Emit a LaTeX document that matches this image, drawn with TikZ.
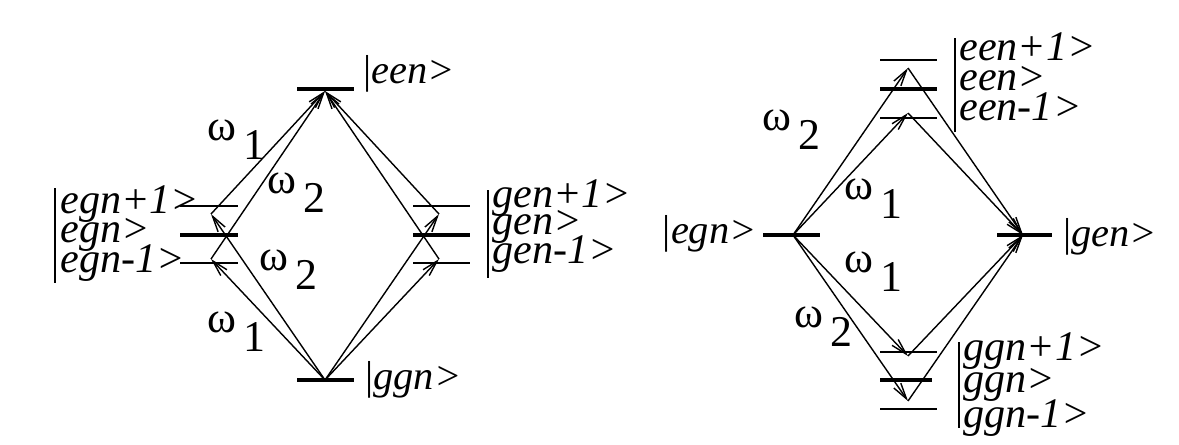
\documentclass[tikz,border=0pt]{standalone}
\usepackage{fontspec}
\setmainfont{Liberation Serif}
\usetikzlibrary{arrows.meta}
\newcommand{\omlab}[1]{\textup{ω}\,\raisebox{-0.45em}{#1}}

\begin{document}
\begin{tikzpicture}[x=0.02cm, y=-0.02cm,
        level/.style={line width=2.4pt},
        sublevel/.style={line width=0.6pt},
        photon/.style={line width=0.8pt, -{Straight Barb[length=3.2mm,width=1.7mm]}},
        ket/.style={font=\fontsize{23}{26}\selectfont\itshape, inner sep=0pt},
        subket/.style={font=\fontsize{24}{28}\selectfont\itshape, inner sep=0pt, anchor=base west},
        freq/.style={font=\fontsize{25}{28}\selectfont, inner sep=0pt, anchor=base west}]
        \useasboundingbox (0,0) rectangle (1179,444);

        % Left scheme: levels
        \draw[level] (297,89) -- (354,89);
        \draw[level] (297,380) -- (354,380);
        \draw[sublevel] (180,206) -- (238,206);
        \draw[level] (180,235) -- (238,235);
        \draw[sublevel] (180,263) -- (238,263);
        \draw[sublevel] (413,206) -- (470,206);
        \draw[level] (413,235) -- (470,235);
        \draw[sublevel] (413,263) -- (470,263);

        % Left scheme: turning points
        \coordinate (een) at (325,91);
        \coordinate (ggn) at (325,380);
        \coordinate (egnA) at (211,214);
        \coordinate (egnB) at (211,259);
        \coordinate (genA) at (439,214);
        \coordinate (genB) at (439,259);

        % Left scheme: transitions
        \draw[photon] (ggn) -- (egnA);
        \draw[photon] (ggn) -- (egnB);
        \draw[photon] (egnA) -- (een);
        \draw[photon] (egnB) -- (een);
        \draw[photon] (ggn) -- (genA);
        \draw[photon] (ggn) -- (genB);
        \draw[photon] (genA) -- (een);
        \draw[photon] (genB) -- (een);

        % Left scheme: labels
        \node[ket, anchor=base west] (keteen) at (363,83) {\textup{|}een>};
        \node[ket, anchor=base west] (ketggn) at (365,389) {\textup{|}ggn>};
        \draw[line width=0.7pt] (55,188) -- (55,283);
        \node[subket] (ketegnp) at (60,213) {egn+1>};
        \node[subket] (ketegn) at (60,242) {egn>};
        \node[subket] (ketegnm) at (60,272) {egn-1>};
        \draw[line width=0.7pt] (488,190) -- (488,278);
        \node[subket] (ketgenp) at (492,207) {gen+1>};
        \node[subket] (ketgen) at (492,234) {gen>};
        \node[subket] (ketgenm) at (492,263) {gen-1>};
        \node[freq] (wa) at (207,140) {\omlab{1}};
        \node[freq] (wb) at (267,193) {\omlab{2}};
        \node[freq] (wc) at (259,270) {\omlab{2}};
        \node[freq] (wd) at (207,332) {\omlab{1}};

        % Right scheme: levels
        \draw[level] (763,235) -- (820,235);
        \draw[level] (997,235) -- (1052,235);
        \draw[sublevel] (880,60) -- (937,60);
        \draw[level] (880,89) -- (937,89);
        \draw[sublevel] (880,118) -- (937,118);
        \draw[sublevel] (880,352) -- (937,352);
        \draw[level] (880,380) -- (932,380);
        \draw[sublevel] (880,409) -- (937,409);

        % Right scheme: turning points
        \coordinate (egn) at (793,235);
        \coordinate (gen) at (1023,235);
        \coordinate (eenA) at (908,68);
        \coordinate (eenB) at (908,113);
        \coordinate (ggnA) at (908,356);
        \coordinate (ggnB) at (908,401);

        % Right scheme: transitions
        \draw[photon] (egn) -- (eenA);
        \draw[photon] (egn) -- (eenB);
        \draw[photon] (eenA) -- (gen);
        \draw[photon] (eenB) -- (gen);
        \draw[photon] (egn) -- (ggnA);
        \draw[photon] (egn) -- (ggnB);
        \draw[photon] (ggnA) -- (gen);
        \draw[photon] (ggnB) -- (gen);

        % Right scheme: labels
        \node[ket, anchor=base east] (ketegnR) at (757,243) {\textup{|}egn>};
        \node[ket, anchor=base west] (ketgenR) at (1063,246) {\textup{|}gen>};
        \draw[line width=0.7pt] (955,38) -- (955,132);
        \node[subket] (keteenp) at (959,60) {een+1>};
        \node[subket] (keteenR) at (959,90) {een>};
        \node[subket] (keteenm) at (959,120) {een-1>};
        \draw[line width=0.7pt] (959,342) -- (959,428);
        \node[subket] (ketggnp) at (963,360) {ggn+1>};
        \node[subket] (ketggnR) at (963,392) {ggn>};
        \node[subket] (ketggnm) at (963,427) {ggn-1>};
        \node[freq] (we) at (762,130) {\omlab{2}};
        \node[freq] (wf) at (844,199) {\omlab{1}};
        \node[freq] (wg) at (844,272) {\omlab{1}};
        \node[freq] (wh) at (794,327) {\omlab{2}};
\end{tikzpicture}
\end{document}
